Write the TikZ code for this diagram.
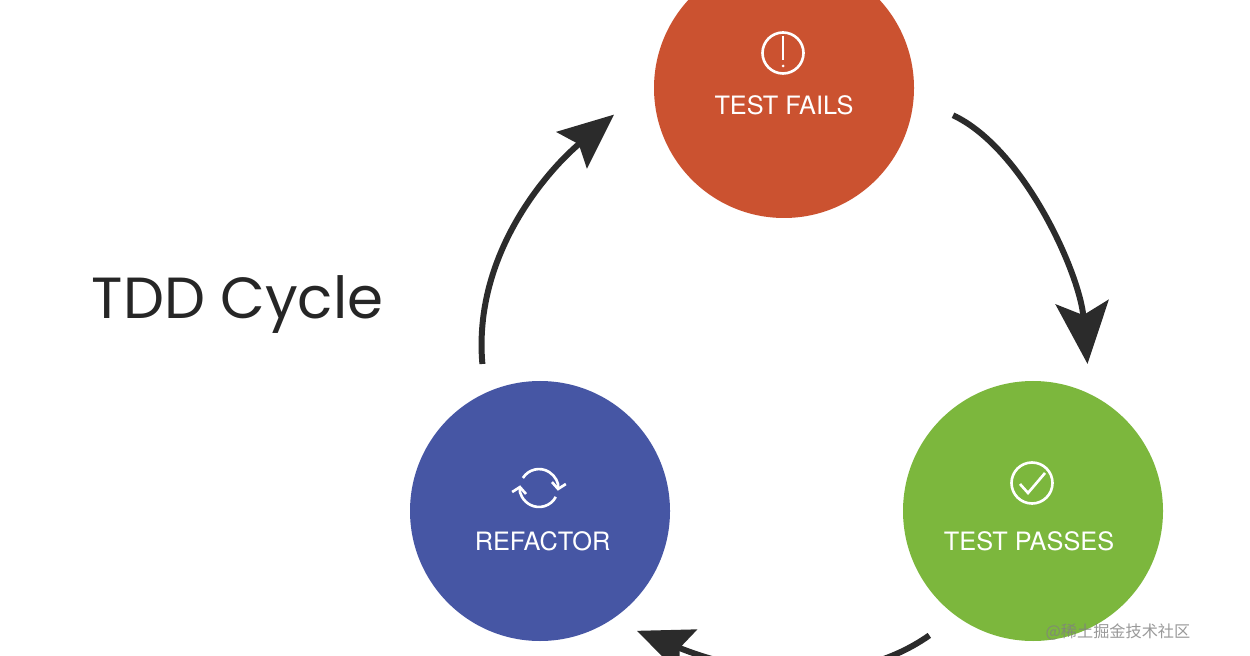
\documentclass[tikz,border=0pt]{standalone}
\usepackage{fontspec}
\setmainfont{TeX Gyre Heros}
\newfontfamily\titlefont{Poppins}
\newfontfamily\cjkfont{Noto Sans CJK SC}
\usetikzlibrary{positioning}
\usetikzlibrary{arrows.meta}
\definecolor{nodered}{HTML}{CB5230}
\definecolor{nodeblue}{HTML}{4656A4}
\definecolor{nodegreen}{HTML}{7CB73D}
\definecolor{edgecol}{HTML}{2B2B2B}
\tikzset{
    mycircle/.style = {circle, draw=none, minimum size=5.2cm, inner sep=0pt},
    mynoder/.style = {mycircle,fill=nodered},
    mynodeb/.style = {mycircle,fill=nodeblue},
    mynodeg/.style = {mycircle,fill=nodegreen},
    mylabel/.style = {text=white,inner sep=0pt,font=\fontsize{14.4}{18}\selectfont},
    myicon/.style = {circle,draw=white,line width=1.5pt,minimum size=0.82cm,inner sep=0pt},
    edgen/.style = {-{Stealth[length=1.1cm,width=0.94cm,inset=0.18cm]},line width=3.4pt,edgecol},
    edgel/.style = {-{Stealth[length=1.24cm,width=1.06cm,inset=0.26cm]},line width=3.4pt,edgecol},
    edgei/.style = {draw=white,line width=1.5pt},
    edgea/.style = {edgei,-{Straight Barb[length=1.2mm,width=2.8mm]}}
}

\begin{document}
\begin{tikzpicture}
\useasboundingbox (0,0) rectangle (25,13.1);
\clip (0,0) rectangle (25,13.1);
%
\node[mynoder] at (15.68,11.34) (fails) {};
\node[mynodeg] at (20.66,2.88) (passes) {};
\node[mynodeb] at (10.80,2.88) (refactor) {};
%
\node[mylabel] at (15.68,11) (failstext) {TEST FAILS};
\node[mylabel] at (20.58,2.28) (passestext) {TEST PASSES};
\node[mylabel] at (10.85,2.28) (refactortext) {REFACTOR};
\node[inner sep=0pt,text=black!85,font=\titlefont\fontsize{33}{36}\selectfont] at (4.75,7.01) (title) {TDD Cycle};
%
\draw[edgel,shorten <=0.86cm,shorten >=0.6cm] (fails.-4) to[out=-25,in=95,looseness=0.9] (passes.64);
\draw[edgen,shorten <=0.66cm,shorten >=0.56cm] (passes.234) to[out=-145,in=-22] (refactor.-57);
\draw[edgen,shorten <=0.58cm,shorten >=1.04cm] (refactor.115) to[out=95,in=220] (fails.177);
%
\node[myicon] at (15.66,12.04) (failsicon) {};
\coordinate (failsa) at (15.66,12.38);
\coordinate (failsb) at (15.66,11.90);
\coordinate (failsc) at (15.66,11.78);
\draw[edgei] (failsa) -- (failsb);
\fill[white] (failsc) circle (0.03);
%
\node[myicon] at (20.64,3.44) (passesicon) {};
\coordinate (passesa) at (20.40,3.42);
\coordinate (passesb) at (20.56,3.24);
\coordinate (passesc) at (20.90,3.64);
\draw[edgei] (passesa) -- (passesb) -- (passesc);
%
\coordinate (refactora) at (10.458,3.54);
\coordinate (refactorb) at (11.115,3.162);
\draw[edgea] (refactora) arc (148:-8:0.38);
\draw[edgea] (refactorb) arc (-28:-188:0.38);
%
\node[inner sep=0pt,text=black!50,opacity=0.8,font=\cjkfont\fontsize{9.2}{11}\selectfont] at (22.36,0.46) (mark) {@稀土掘金技术社区};
\end{tikzpicture}
\end{document}
